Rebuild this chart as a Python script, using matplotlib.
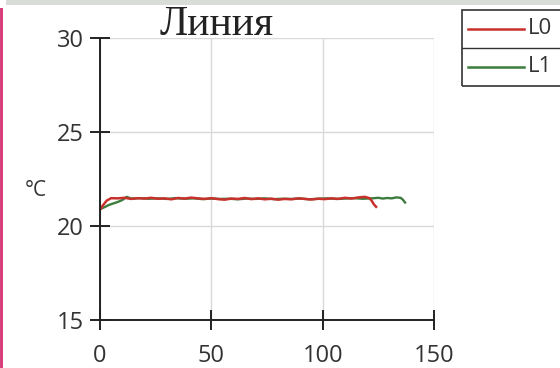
import matplotlib
matplotlib.use('Agg')
import matplotlib.pyplot as plt
from matplotlib.patches import Rectangle
from matplotlib.lines import Line2D

plt.rcParams['font.family'] = ['Open Sans', 'DejaVu Sans']

# данные
title = 'Линия'
unit = '°C'
x_ticks = [0, 50, 100, 150]
y_ticks = [15, 20, 25, 30]

x0 = [0, 1, 3, 5, 8, 11, 14, 17, 20, 23, 26, 29, 32, 35, 38, 41, 44, 47, 50,
      53, 56, 59, 62, 65, 68, 71, 74, 77, 80, 83, 86, 89, 92, 95, 98, 101,
      104, 107, 110, 113, 116, 119, 121, 122, 123, 124]
y0 = [20.85, 21.05, 21.35, 21.48, 21.47, 21.50, 21.44, 21.48, 21.46, 21.50,
      21.45, 21.47, 21.42, 21.49, 21.46, 21.51, 21.47, 21.44, 21.48, 21.43,
      21.40, 21.46, 21.44, 21.49, 21.43, 21.47, 21.42, 21.45, 21.40, 21.44,
      21.42, 21.47, 21.44, 21.41, 21.45, 21.43, 21.47, 21.44, 21.50, 21.46,
      21.52, 21.55, 21.48, 21.35, 21.15, 21.02]

x1 = [0, 2, 4, 6, 8, 10, 12, 14, 18, 22, 26, 30, 34, 38, 42, 46, 50, 54, 58,
      62, 66, 70, 74, 78, 82, 86, 90, 94, 98, 102, 106, 110, 114, 118, 122,
      125, 127, 129, 131, 133, 135, 136, 137]
y1 = [20.9, 21.0, 21.12, 21.2, 21.28, 21.38, 21.55, 21.46, 21.48, 21.45,
      21.47, 21.44, 21.48, 21.45, 21.47, 21.43, 21.46, 21.44, 21.45, 21.42,
      21.46, 21.44, 21.47, 21.43, 21.45, 21.44, 21.46, 21.42, 21.45, 21.47,
      21.44, 21.46, 21.48, 21.45, 21.47, 21.50, 21.46, 21.49, 21.47, 21.52,
      21.50, 21.40, 21.25]

red = '#c8302c'
green = '#3c7c3c'

fig = plt.figure(figsize=(5.6, 3.68), dpi=100)
ax = fig.add_axes([100 / 560, 48 / 368, 334 / 560, 282 / 368])

ax.plot(x1, y1, color=green, lw=1.7, zorder=3)
ax.plot(x0, y0, color=red, lw=1.8, zorder=4)

ax.set_xlim(0, 150)
ax.set_ylim(15, 30)
ax.set_xticks(x_ticks)
ax.set_yticks(y_ticks)
ax.grid(True, color='#d9d9d9', lw=1)
ax.set_axisbelow(True)

for s in ['top', 'right']:
    ax.spines[s].set_visible(False)
for s in ['left', 'bottom']:
    ax.spines[s].set_color('#222222')
    ax.spines[s].set_linewidth(1.4)
    ax.spines[s].set_zorder(5)

ax.tick_params(axis='both', direction='inout', length=15, width=1.4,
               color='#222222', labelcolor='#333333')
ax.tick_params(axis='y', labelsize=17, pad=4)
ax.tick_params(axis='x', labelsize=17, pad=10)

fig.text(160 / 560, 1 - 35 / 368, title, family='Liberation Serif',
         fontsize=30, color='#222222', ha='left', va='baseline')
fig.text(36 / 560, 1 - 191 / 368, unit, fontsize=15, color='#333333',
         ha='center', va='center')

# легенда вручную: рамка с разделителем
W, H = 560, 368
fig.add_artist(Rectangle((462 / W, 1 - 86 / H), 110 / W, 76 / H,
                         transform=fig.transFigure, fill=False,
                         ec='#333333', lw=1.2))
fig.add_artist(Line2D([462 / W, 1], [1 - 48 / H, 1 - 48 / H],
                      transform=fig.transFigure, color='#333333', lw=1))
for yy, c, lab in [(29, red, 'L0'), (67, green, 'L1')]:
    fig.add_artist(Line2D([468 / W, 524 / W], [1 - yy / H, 1 - yy / H],
                          transform=fig.transFigure, color=c, lw=1.8))
    fig.text(528 / W, 1 - yy / H, lab, fontsize=16, color='#333333',
             ha='left', va='center')

# рамка скриншота
fig.add_artist(Rectangle((6 / W, 1 - 5 / H), 1, 5 / H,
                         transform=fig.transFigure, color='#d8ddd8', lw=0))
fig.add_artist(Rectangle((0, 0), 2.5 / W, 1 - 8 / H,
                         transform=fig.transFigure, color='#d8407c', lw=0))

fig.savefig('out.png', dpi=100)
